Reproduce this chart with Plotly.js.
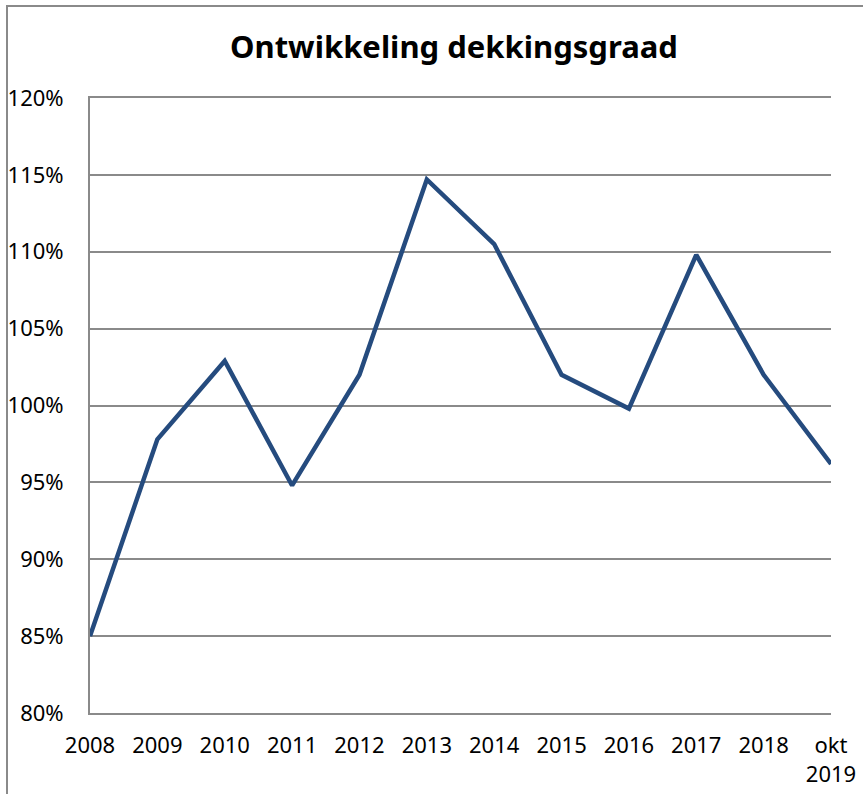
<!DOCTYPE html>
<html><head><meta charset="utf-8">
<script src="https://cdn.plot.ly/plotly-3.0.1.min.js"></script>
<style>
html,body{margin:0;padding:0;background:#fff;overflow:hidden}
#frame{position:absolute;left:6px;top:5px;width:900px;height:900px;border-left:2px solid #8a8a8a;border-top:2px solid #8a8a8a;}
#chart{position:absolute;left:0;top:0;width:863px;height:794px}
</style></head>
<body><div id="frame"></div><div id="chart"></div>
<script>
const categories = ["2008","2009","2010","2011","2012","2013","2014","2015","2016","2017","2018","okt<br>2019"];
const dekkingsgraad = [85.0, 97.8, 102.9, 94.8, 102.0, 114.7, 110.5, 102.0, 99.8, 109.8, 102.0, 96.2];
const yTicks = [80,85,90,95,100,105,110,115,120];
const yTickText = yTicks.map(v => v + "%");

const trace = {
  x: categories, y: dekkingsgraad, type: 'scatter', mode: 'lines',
  line: {color: '#254B7E', width: 4.5}, hoverinfo: 'skip'
};
const layout = {
  width: 863, height: 794,
  paper_bgcolor: 'rgba(0,0,0,0)', plot_bgcolor: 'rgba(0,0,0,0)',
  margin: {l: 90, r: 32, t: 98, b: 81},
  showlegend: false,
  font: {family: '"Noto Sans", sans-serif', color: '#000'},
  title: {text: '<b>Ontwikkeling dekkingsgraad</b>', x: 0.526, xanchor: 'center', y: 0.94, yanchor: 'middle', yref:'container',
          font: {size: 31, family: '"Noto Sans", sans-serif', color: '#000'}},
  xaxis: {type: 'category', range: [0, 11], showgrid: false, showline: true, mirror: true, linecolor: '#8a8a8a', linewidth: 2,
          ticks: '', tickfont: {size: 22}, ticklabelstandoff: 12, zeroline: false, fixedrange: true},
  yaxis: {range: [80, 120], tickvals: yTicks, ticktext: yTickText, showgrid: true, gridcolor: '#8a8a8a', gridwidth: 2,
          showline: true, linecolor: '#8a8a8a', linewidth: 2, ticks: '', tickfont: {size: 22}, ticklabelstandoff: 20,
          zeroline: false, fixedrange: true}
};
Plotly.newPlot('chart', [trace], layout, {staticPlot: true, displayModeBar: false});
</script></body></html>
